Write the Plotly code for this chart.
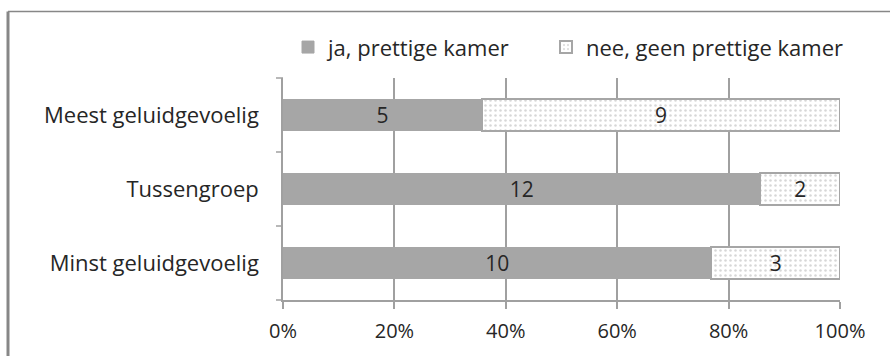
import plotly.graph_objects as go

categories = ["Minst geluidgevoelig", "Tussengroep", "Meest geluidgevoelig"]
ja_counts = [10, 12, 5]
nee_counts = [3, 2, 9]
series_names = ["ja, prettige kamer", "nee, geen prettige kamer"]
tick_vals = [0, 20, 40, 60, 80, 100]
tick_text = ["0%", "20%", "40%", "60%", "80%", "100%"]

FONT = "Open Sans"
GREY = "#a6a6a6"
INK = "#262626"

fig = go.Figure()
fig.add_trace(go.Bar(
    y=categories, x=ja_counts, orientation="h", name=series_names[0],
    marker=dict(color=GREY, line=dict(color=GREY, width=1)),
    text=[str(v) for v in ja_counts], textposition="inside", textangle=0,
    constraintext="none", insidetextanchor="middle",
    textfont=dict(color=INK, size=21, family=FONT), legend="legend",
))
fig.add_trace(go.Bar(
    y=categories, x=nee_counts, orientation="h", name=series_names[1],
    marker=dict(color="white", line=dict(color=GREY, width=2),
                pattern=dict(shape=".", fgcolor="#b0b0b0", bgcolor="white",
                             size=5, solidity=0.2)),
    text=[str(v) for v in nee_counts], textposition="inside", textangle=0,
    constraintext="none", insidetextanchor="middle",
    textfont=dict(color=INK, size=21, family=FONT), legend="legend2",
))

W, H = 890, 356
L, R, T, B = 283, 50, 78, 54
pw, ph = W - L - R, H - T - B

def px(x):
    return (x - L) / pw

def py(y):
    return (H - B - y) / ph

legend_style = dict(orientation="h", yanchor="middle", xanchor="left", y=py(47),
                    font=dict(size=22, family=FONT, color=INK), itemwidth=30,
                    bgcolor="rgba(0,0,0,0)")

fig.update_layout(
    width=W, height=H, barmode="stack", barnorm="percent", bargap=0.58,
    margin=dict(l=L, r=R, t=T, b=B),
    paper_bgcolor="white", plot_bgcolor="white",
    font=dict(family=FONT, size=22, color=INK),
    showlegend=True,
    legend=dict(x=px(288), **legend_style),
    legend2=dict(x=px(546), **legend_style),
    xaxis=dict(range=[0, 100], tickvals=tick_vals, ticktext=tick_text,
               tickfont=dict(size=20),
               showgrid=True, gridcolor="#a0a0a0", gridwidth=1.5,
               showline=True, linecolor="#a0a0a0", linewidth=1.5,
               ticks="outside", ticklen=7, tickcolor="#a0a0a0", tickwidth=1.5,
               zeroline=False, fixedrange=True, ticklabelstandoff=5),
    yaxis=dict(showline=True, linecolor="#a0a0a0", linewidth=1.5,
               ticks="", showgrid=False, ticklabelstandoff=18, fixedrange=True),
    shapes=[
        # outer chart frame
        dict(type="line", xref="paper", yref="paper", x0=px(8), x1=px(900),
             y0=py(11), y1=py(11), line=dict(color="#878787", width=1.5)),
        dict(type="line", xref="paper", yref="paper", x0=px(8), x1=px(8),
             y0=py(11), y1=py(370), line=dict(color="#878787", width=3)),
    ] + [
        # category separator ticks on the value-axis side
        dict(type="line", xref="paper", yref="paper", x0=px(276), x1=px(283),
             y0=py(yy), y1=py(yy), line=dict(color="#a0a0a0", width=1.5))
        for yy in (T, T + ph / 3, T + 2 * ph / 3, T + ph)
    ],
)

fig.write_html("out.html")
